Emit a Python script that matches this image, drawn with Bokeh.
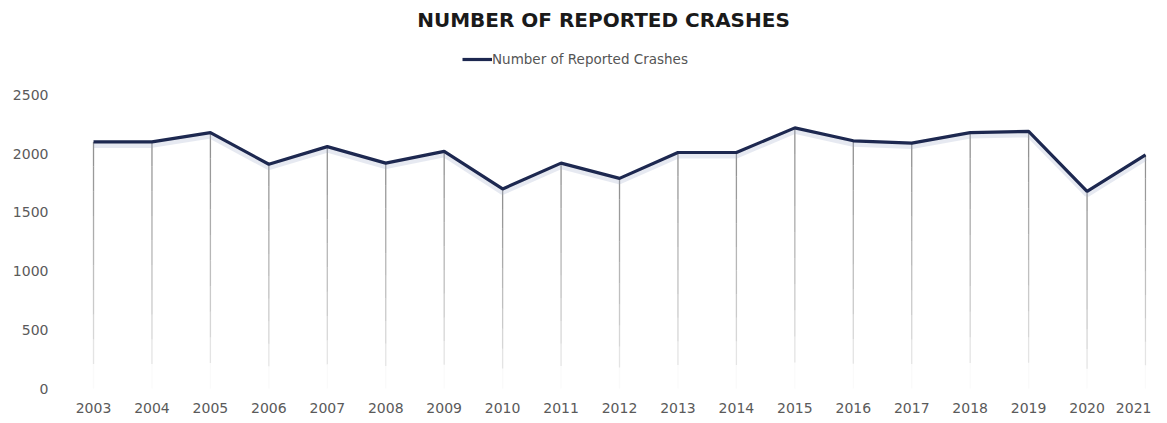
from bokeh.plotting import figure
from bokeh.models import FixedTicker, Range1d, Legend, LegendItem, ColumnDataSource
from bokeh.embed import file_html
from bokeh.resources import INLINE

years = [2003, 2004, 2005, 2006, 2007, 2008, 2009, 2010, 2011, 2012,
         2013, 2014, 2015, 2016, 2017, 2018, 2019, 2020, 2021]
crashes = [2100, 2100, 2180, 1910, 2060, 1920, 2020, 1700, 1920, 1790,
           2010, 2010, 2220, 2110, 2090, 2180, 2190, 1680, 1990]
y_ticks = [0, 500, 1000, 1500, 2000, 2500]
series_name = "Number of Reported Crashes"
title_text = "NUMBER OF REPORTED CRASHES"

FONT = "DejaVu Sans"
NAVY = "#1d2850"

p = figure(width=1151, height=415, output_backend="svg", toolbar_location=None,
           x_range=Range1d(2002.435, 2021.017), y_range=Range1d(-8, 2998),
           min_border_left=60, min_border_right=5, min_border_top=0, min_border_bottom=0)

p.title.text = title_text
p.title.align = "center"
p.title.text_font = FONT
p.title.text_font_size = "20px"
p.title.text_font_style = "bold"
p.title.text_color = "#1a1a1a"
p.title.offset = 0

p.outline_line_color = None
p.grid.grid_line_color = None

# drop lines fading toward zero
src = ColumnDataSource(dict(x=years, y=crashes))
n = 10
for i in range(n):
    lo = [v * i / n for v in crashes]
    hi = [v * (i + 1) / n for v in crashes]
    p.segment(x0=years, y0=lo, x1=years, y1=hi, line_color="#6e6e6e",
              line_width=1.3, line_alpha=0.03 + 0.72 * (i / (n - 1)) ** 0.7)

# soft shadow
p.line(years, [v - 25 for v in crashes], line_color="#9aa6c8", line_width=6, line_alpha=0.25)
r = p.line("x", "y", source=src, line_color=NAVY, line_width=3.2)

legend = Legend(items=[LegendItem(label=series_name, renderers=[r])],
                location=(402, 322), orientation="horizontal",
                label_text_font=FONT, label_text_font_size="13.5px", label_text_color="#555555",
                background_fill_alpha=0, border_line_color=None,
                glyph_width=30, glyph_height=14, label_height=14,
                label_standoff=0, padding=0, margin=0)
p.add_layout(legend)

p.xaxis.ticker = FixedTicker(ticks=years)
p.yaxis.ticker = FixedTicker(ticks=y_ticks)
for ax in (p.xaxis, p.yaxis):
    ax.axis_line_color = None
    ax.major_tick_line_color = None
    ax.minor_tick_line_color = None
    ax.major_tick_out = 0
    ax.major_tick_in = 0
    ax.major_label_text_font = FONT
    ax.major_label_text_font_size = "14px"
    ax.major_label_text_color = "#5a5a5a"
p.yaxis.major_label_standoff = 12
p.xaxis.major_label_standoff = 13

open("out.html", "w").write(file_html(p, INLINE))
